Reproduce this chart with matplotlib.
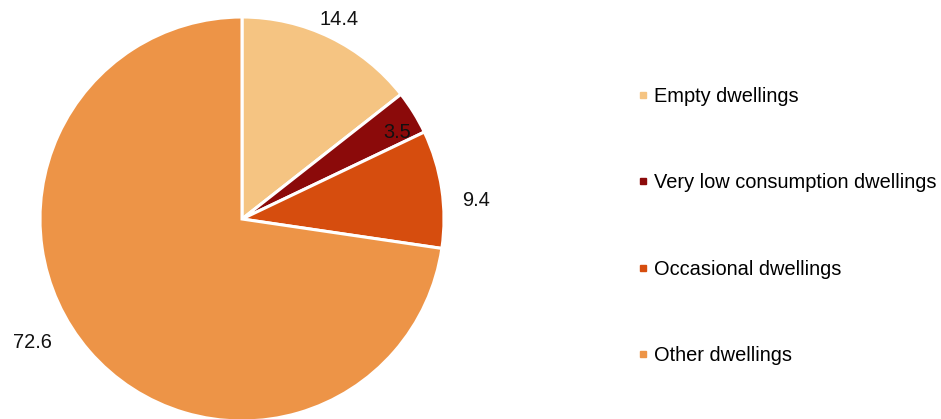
import matplotlib.pyplot as plt
from matplotlib.lines import Line2D

plt.rcParams['font.family'] = ['Liberation Sans', 'DejaVu Sans']

categories = ['Empty dwellings', 'Very low consumption dwellings',
              'Occasional dwellings', 'Other dwellings']
shares = [14.4, 3.5, 9.4, 72.6]
value_labels = ['14.4', '3.5', '9.4', '72.6']
colors = ['#F5C482', '#8B0A0A', '#D64D0E', '#ED9447']

# label positions in pie units (radius = 1)
label_pos = [(0.48, 0.99), (0.77, 0.43), (1.16, 0.09), (-1.035, -0.61)]

fig = plt.figure(figsize=(9.41, 4.19), dpi=100)
ax = fig.add_axes([40 / 941, -2 / 419, 404 / 941, 404 / 419])

ax.pie(shares, colors=colors, startangle=90, counterclock=False,
       wedgeprops=dict(edgecolor='white', linewidth=2.2))
ax.set_xlim(-1, 1)
ax.set_ylim(-1, 1)
ax.set_aspect('equal')
ax.set_axis_off()

for txt, (x, y) in zip(value_labels, label_pos):
    ax.text(x, y, txt, ha='center', va='center', fontsize=14.4,
            color='#111111', clip_on=False)

handles = [Line2D([], [], linestyle='none', marker='s', markersize=5,
                  markerfacecolor=c, markeredgecolor=c) for c in colors]
fig.legend(handles, categories, loc='center left',
           bbox_to_anchor=(638 / 941, (419 - 226) / 419),
           frameon=False, fontsize=14.4, handlelength=0.5,
           handletextpad=0.3, labelspacing=3.36, borderpad=0,
           borderaxespad=0)

fig.savefig('out.png', dpi=100)
